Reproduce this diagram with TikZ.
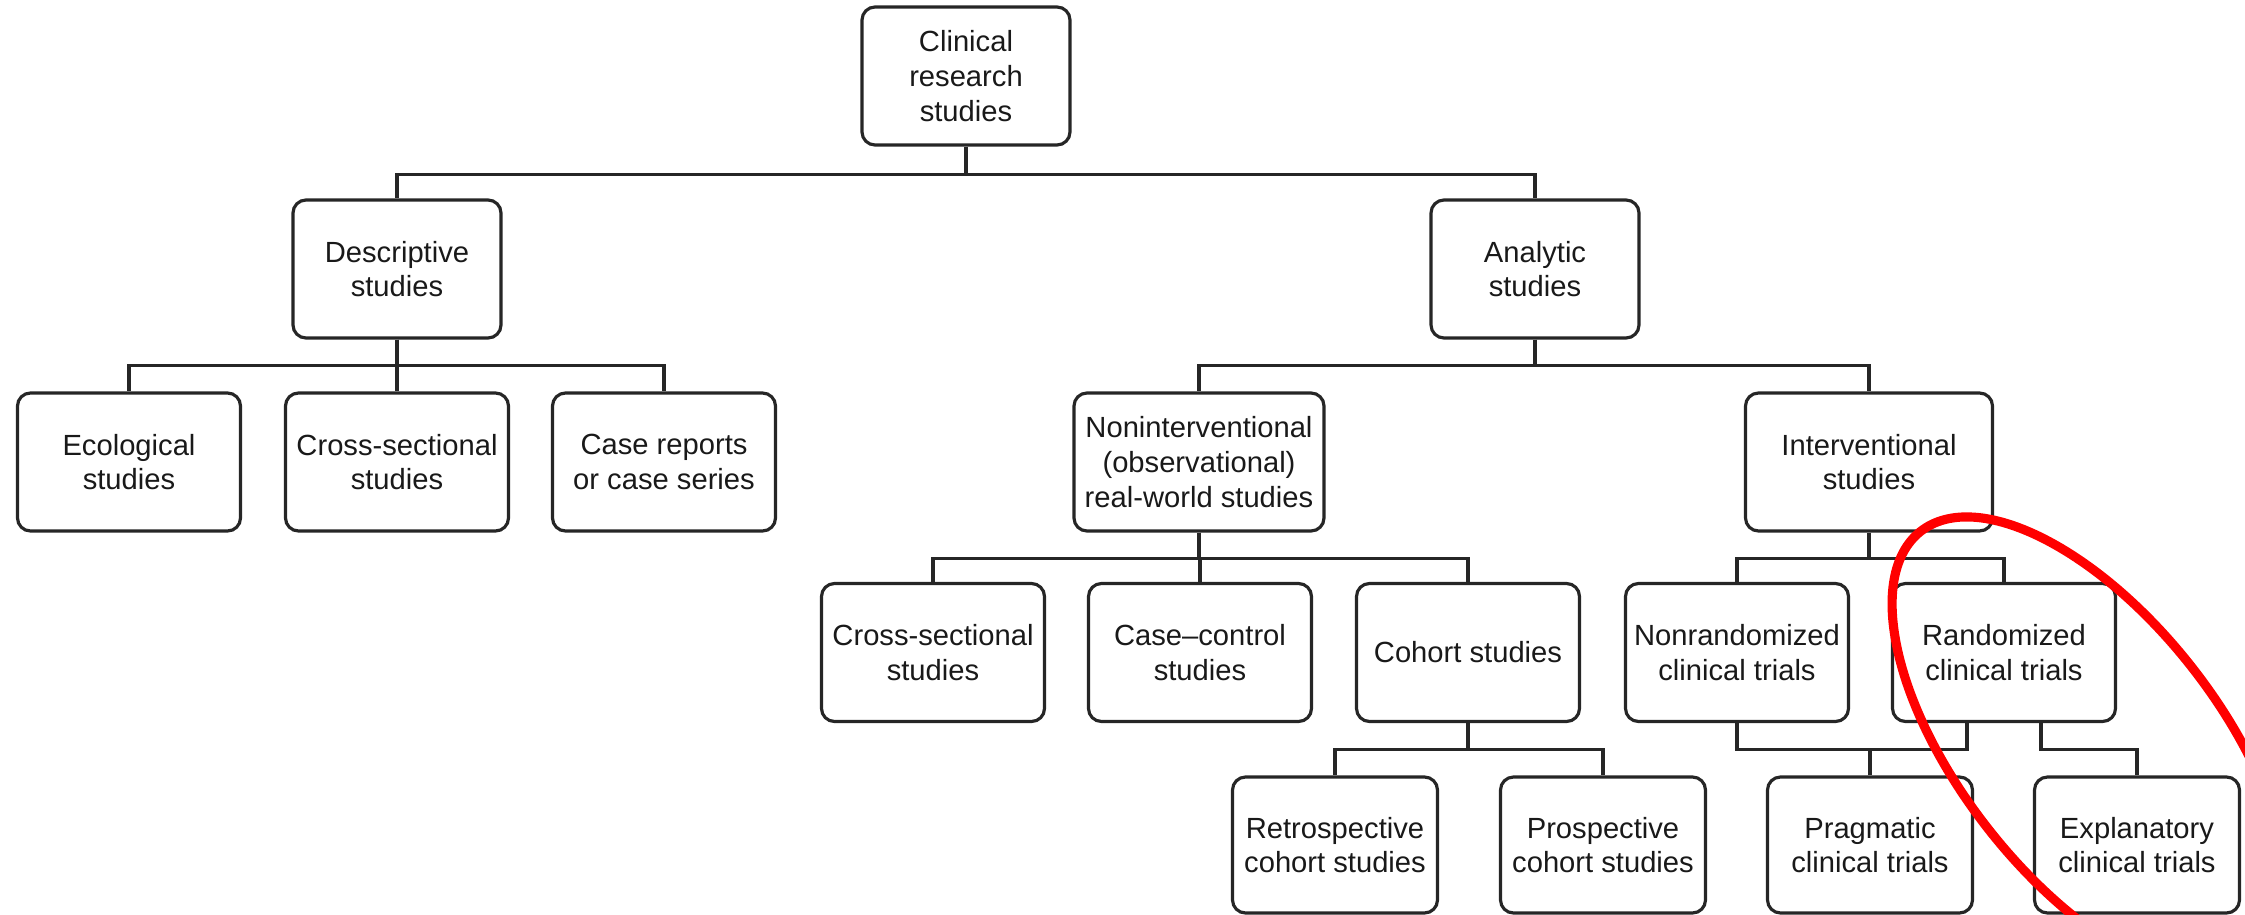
\documentclass[tikz,border=0pt]{standalone}
\usepackage{fontspec}
\setmainfont{Liberation Sans}

\begin{document}
\begin{tikzpicture}[
  box/.style={draw=black!85, text=black!90, line width=0.9pt, rounded corners=1.3mm,
    align=center, inner sep=1pt, minimum width=2.23cm, minimum height=1.38cm,
    font=\fontsize{8.3}{9.9}\selectfont},
  link/.style={draw=black!85, line width=0.9pt},
  ring/.style={draw=red, line width=2.6pt}]
\useasboundingbox (0,0) rectangle (22.45,-9.15);

\node [box, minimum width=2.08cm] at (9.66, -0.76) (clin) {Clinical\\research\\studies};

\node [box, minimum width=2.08cm] at (3.97, -2.69) (desc) {Descriptive\\studies};
\node [box, minimum width=2.08cm] at (15.35, -2.69) (anal) {Analytic\\studies};

\node [box] at (1.29, -4.62) (eco) {Ecological\\studies};
\node [box] at (3.97, -4.62) (cross) {Cross-sectional\\studies};
\node [box] at (6.64, -4.62) (case) {Case reports\\or case series};
\node [box, minimum width=2.50cm] at (11.99, -4.62) (nonint) {Noninterventional\\(observational)\\real-world studies};
\node [box, minimum width=2.47cm] at (18.69, -4.62) (interv) {Interventional\\studies};

\node [box] at (9.33, -6.525) (crossobs) {Cross-sectional\\studies};
\node [box] at (12.00, -6.525) (casectl) {Case--control\\studies};
\node [box] at (14.68, -6.525) (coh) {Cohort studies};
\node [box] at (17.37, -6.525) (nonrand) {Nonrandomized\\clinical trials};
\node [box] at (20.04, -6.525) (rand) {Randomized\\clinical trials};

\node [box, minimum width=2.05cm, minimum height=1.36cm] at (13.35, -8.45) (retro) {Retrospective\\cohort studies};
\node [box, minimum width=2.05cm, minimum height=1.36cm] at (16.03, -8.45) (prosp) {Prospective\\cohort studies};
\node [box, minimum width=2.05cm, minimum height=1.36cm] at (18.70, -8.45) (prag) {Pragmatic\\clinical trials};
\node [box, minimum width=2.05cm, minimum height=1.36cm] at (21.37, -8.45) (expl) {Explanatory\\clinical trials};

\draw [link] (clin.south) -- ++(0,-0.28) -| (desc.north);
\draw [link] (clin.south) -- ++(0,-0.28) -| (anal.north);

\draw [link] (desc.south) -- ++(0,-0.26) -| (eco.north);
\draw [link] (desc.south) -- ++(0,-0.26) -| (cross.north);
\draw [link] (desc.south) -- ++(0,-0.26) -| (case.north);

\draw [link] (anal.south) -- ++(0,-0.26) -| (nonint.north);
\draw [link] (anal.south) -- ++(0,-0.26) -| (interv.north);

\draw [link] (nonint.south) -- ++(0,-0.26) -| (crossobs.north);
\draw [link] (nonint.south) -- ++(0,-0.26) -| (casectl.north);
\draw [link] (nonint.south) -- ++(0,-0.26) -| (coh.north);

\draw [link] (interv.south) -- ++(0,-0.26) -| (nonrand.north);
\draw [link] (interv.south) -- ++(0,-0.26) -| (rand.north);

\draw [link] (coh.south) -- ++(0,-0.265) -| (retro.north);
\draw [link] (coh.south) -- ++(0,-0.265) -| (prosp.north);

\coordinate (pj) at ([yshift=-2.65mm]nonrand.south);
\draw [link] (nonrand.south) -- (pj) -| ([xshift=-3.7mm]rand.south);
\draw [link] (prag.north) -- (prag.north |- pj);
\draw [link] ([xshift=3.7mm]rand.south) -- ++(0,-0.265) -| (expl.north);

\draw [ring, rotate around={-52:(20.90,-7.48)}] (20.90,-7.48) ellipse [x radius=2.75, y radius=1.30];
\end{tikzpicture}
\end{document}
